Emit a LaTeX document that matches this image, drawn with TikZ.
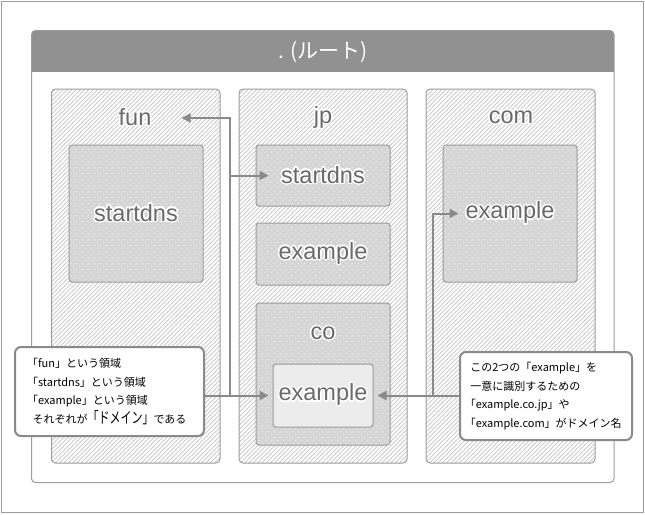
\documentclass[tikz,border=0pt]{standalone}
\usepackage{fontspec}
\setmainfont{Liberation Sans}
\newfontfamily\jpfont{Noto Sans CJK JP}
\usepackage{graphicx}
\usepackage{contour}
\contourlength{1.4pt}
\usetikzlibrary{patterns,patterns.meta,arrows.meta}

\definecolor{linegray}{HTML}{8A8A8A}
\definecolor{boxgray}{HTML}{9C9C9C}
\definecolor{headgray}{HTML}{919191}
\definecolor{hatchgray}{HTML}{CFCFCF}
\definecolor{dotfill}{HTML}{D5D5D5}
\definecolor{dotgray}{HTML}{EDEDED}
\definecolor{labelgray}{HTML}{6A6A6A}
\definecolor{leaffill}{HTML}{ECECEC}

\tikzdeclarepattern{
  name=thickhatch, type=uncolored,
  bounding box={(-1pt,-1pt) and (5.3pt,5.3pt)},
  tile size={(4.3pt,4.3pt)},
  code={
    \pgfsetlinewidth{0.9pt}
    \pgfpathmoveto{\pgfpoint{-0.3pt}{-0.3pt}}
    \pgfpathlineto{\pgfpoint{4.6pt}{4.6pt}}
    \pgfusepath{stroke}
  }
}
\tikzdeclarepattern{
  name=softdots, type=uncolored,
  bounding box={(0pt,0pt) and (6pt,6pt)},
  tile size={(6pt,6pt)},
  code={
    \pgfpathrectangle{\pgfpoint{1.3pt}{1.3pt}}{\pgfpoint{1.3pt}{1.3pt}}
    \pgfpathrectangle{\pgfpoint{4.3pt}{4.3pt}}{\pgfpoint{1.3pt}{1.3pt}}
    \pgfusepath{fill}
  }
}

\newcommand{\halo}[1]{\contour{white}{#1}}
\newcommand{\labelfont}{\fontsize{23.5}{28}\selectfont}
\newcommand{\notefont}{\jpfont\fontsize{11}{18.5}\selectfont}
\newcommand{\lb}{\hspace*{-0.5em}}

\begin{document}
\begin{tikzpicture}[x=1pt, y=-1pt,
  tldbox/.style={draw=boxgray, line width=1pt, rounded corners=4pt, preaction={fill=white},
    pattern=thickhatch, pattern color=hatchgray, inner sep=0pt},
  zone/.style={draw=boxgray, line width=1pt, rounded corners=3pt, preaction={fill=dotfill},
    pattern=softdots, pattern color=dotgray, inner sep=0pt, text=labelgray, font=\labelfont},
  leaf/.style={draw=boxgray, line width=1pt, rounded corners=3pt, fill=leaffill,
    inner sep=0pt, text=labelgray, font=\labelfont},
  dlabel/.style={text=labelgray, font=\labelfont, inner sep=0pt},
  note/.style={draw=linegray, line width=2pt, rounded corners=6pt, fill=white,
    align=left, font=\notefont},
  link/.style={draw=linegray, line width=2pt, -{Triangle[length=9pt,width=9pt]}}]

\useasboundingbox (0,0) rectangle (645,514);
\draw [boxgray, line width=1.2pt] (1.5,1.5) rectangle (643.5,512.5);

% -------- root -----------
\fill [headgray, rounded corners=4pt] (31.5,30.5) rectangle (614,84);
\fill [white] (31.5,72) rectangle (614,90);
\draw [boxgray, line width=1pt, rounded corners=4pt] (31.5,30.5) rectangle (614,482.5);
\node (root) at (322.75,51.5) [text=white, font=\jpfont\fontsize{21}{24}\selectfont] {. (ルート)};

% -------- top level domains -----------
\node (fun) at (135.75,276) [tldbox, minimum width=168.5pt, minimum height=374pt] {};
\node (jp)  at (323,276)    [tldbox, minimum width=168pt, minimum height=374pt] {};
\node (com) at (510.5,276)  [tldbox, minimum width=169pt, minimum height=374pt] {};

\node (funlbl) at (135,118) [dlabel] {\halo{fun}};
\node (jplbl)  at (323,118) [dlabel] {\halo{jp}};
\node (comlbl) at (511,118) [dlabel] {\halo{com}};

% -------- second level -----------
\node (funstart) at (136,213.5) [zone, minimum width=134pt, minimum height=137pt] {\halo{startdns}};
\node (jpstart)  at (323,175.5) [zone, minimum width=134pt, minimum height=61pt] {\halo{startdns}};
\node (jpex)     at (323,254)   [zone, minimum width=134pt, minimum height=62pt] {\halo{example}};
\node (co)       at (323,374)   [zone, minimum width=134pt, minimum height=142pt] {};
\node (colbl)    at (323,334)   [dlabel] {\halo{co}};
\node (coex)     at (323,395.5) [leaf, minimum width=100pt, minimum height=63pt] {\halo{example}};
\node (comex)    at (510,213.5) [zone, minimum width=134pt, minimum height=137pt] {\halo{example}};

% -------- notes -----------
\node (lnote) at (109.5,391.5) [note, minimum width=189pt, minimum height=89pt]
  {\lb「fun」という領域\\\lb「startdns」という領域\\\lb「example」という領域\\
   それぞれが\scalebox{1}[1.4]{「ドメイン」}である};
\node (rnote) at (546,396) [note, minimum width=172pt, minimum height=88pt]
  {この2つの「example」を\\一意に識別するための\\\lb「example.co.jp」や\\\lb「example.com」がドメイン名};

% -------- links -----------
\coordinate (jl) at (230,396);
\coordinate (jr) at (433,396);
\draw [link, shorten >=4pt] (lnote.east |- coex.west) -- (coex.west);
\draw [link] (jl) |- ([xshift=30pt]funlbl.east);
\draw [link] (jl |- jpstart) -- ([xshift=13pt]jpstart.west);
\draw [link, shorten >=4pt] (rnote.west |- coex.east) -- (coex.east);
\draw [link] (jr) |- ([xshift=16pt]comex.west);
\end{tikzpicture}
\end{document}
